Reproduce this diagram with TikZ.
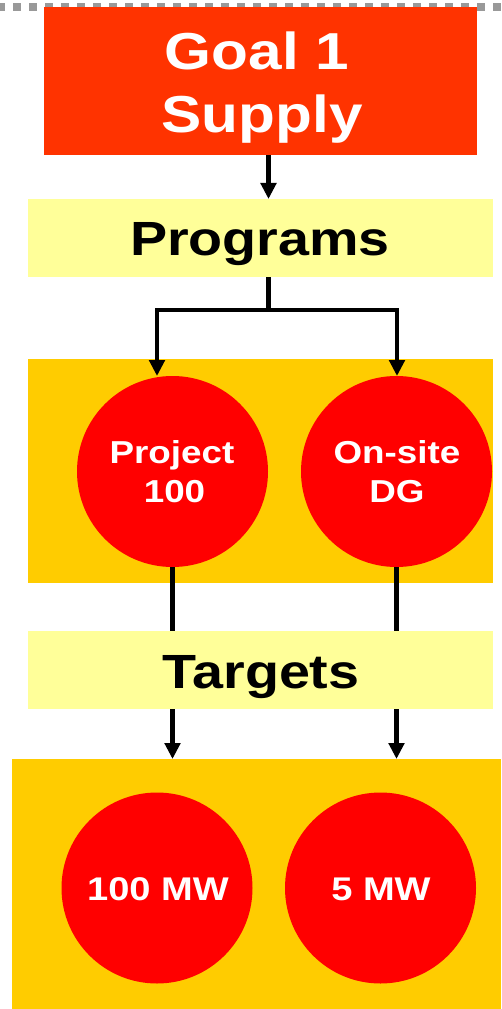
\documentclass[tikz,border=0pt]{standalone}
\usepackage{fontspec}
\setmainfont{Liberation Sans}[FakeStretch=1.16]
\usetikzlibrary{arrows.meta}
\definecolor{goalred}{HTML}{FF3300}
\definecolor{paleyellow}{HTML}{FFFF99}
\definecolor{gold}{HTML}{FFCC00}
\definecolor{circred}{HTML}{FF0000}
\definecolor{dashgray}{HTML}{999999}
\begin{document}
\begin{tikzpicture}[x=0.75pt,y=-0.75pt,
  box/.style={rectangle, anchor=north west, inner sep=0pt, outer sep=0pt, draw=none},
  ball/.style={circle, fill=circred, inner sep=0pt, outer sep=0pt, minimum size=191*0.75pt},
  bigtext/.style={text=white, font=\bfseries\fontsize{39}{47}\selectfont, anchor=base, inner sep=0pt},
  headtext/.style={text=black, font=\bfseries\fontsize{36}{43}\selectfont, anchor=base, inner sep=0pt},
  balltext/.style={text=white, font=\bfseries\fontsize{23.8}{28}\selectfont, anchor=base, inner sep=0pt},
  conn/.style={line width=3.4pt, black},
  arr/.style={conn, -{Triangle[width=11.5pt,length=12pt]}}]
\useasboundingbox (0,0) rectangle (501,1009);
% dashed top border
\draw[dashgray, line width=6pt, dash pattern=on 6pt off 6pt, dash phase=2.25pt] (0,7) -- (501,7);
% boxes
\node[box, fill=goalred, minimum width=433*0.75pt, minimum height=148*0.75pt] (goal) at (44,7) {};
\node[box, fill=paleyellow, minimum width=465*0.75pt, minimum height=78*0.75pt] (prog) at (28,199) {};
\node[box, fill=gold, minimum width=465*0.75pt, minimum height=224*0.75pt] (band1) at (28,359) {};
\node[box, fill=paleyellow, minimum width=465*0.75pt, minimum height=78*0.75pt] (targ) at (28,631) {};
\node[box, fill=gold, minimum width=489*0.75pt, minimum height=250*0.75pt] (band2) at (12,759) {};
% circles
\node[ball] (p100) at (172.5,471.5) {};
\node[ball] (onsite) at (396.5,471.5) {};
\node[ball] (mw100) at (157,888) {};
\node[ball] (mw5) at (380.5,888) {};
% texts
\node[bigtext] (t1) at (257,70) {Goal 1};
\node[bigtext] (t2) at (262,133) {Supply};
\node[headtext] (t3) at (260,255) {Programs};
\node[headtext] (t4) at (261,688) {Targets};
\node[balltext] (t5) at (172,463) {Project};
\node[balltext] (t6) at (174.5,502) {100};
\node[balltext] (t7) at (397,463) {On-site};
\node[balltext] (t8) at (397,502) {DG};
\node[balltext, font=\bfseries\fontsize{24.6}{29}\selectfont] (t9) at (158,900) {100 MW};
\node[balltext, font=\bfseries\fontsize{24.6}{29}\selectfont] (t10) at (381,900) {5 MW};
% connectors
\coordinate (trunk) at (268.5,310);
\coordinate (brL) at (157,310);
\coordinate (brR) at (397,310);
\draw[arr] (goal.south -| trunk) -- (prog.north -| trunk);
\draw[arr] (prog.south -| trunk) |- (brL) -- (p100.north -| brL);
\draw[arr] (prog.south -| trunk) |- (brR) -- (onsite.north -| brR);
\draw[conn] (p100.south) -- (targ.north -| p100.south);
\draw[conn] (onsite.south) -- (targ.north -| onsite.south);
\draw[arr] (targ.south -| p100.south) -- (band2.north -| p100.south);
\draw[arr] (targ.south -| onsite.south) -- (band2.north -| onsite.south);
\end{tikzpicture}
\end{document}
